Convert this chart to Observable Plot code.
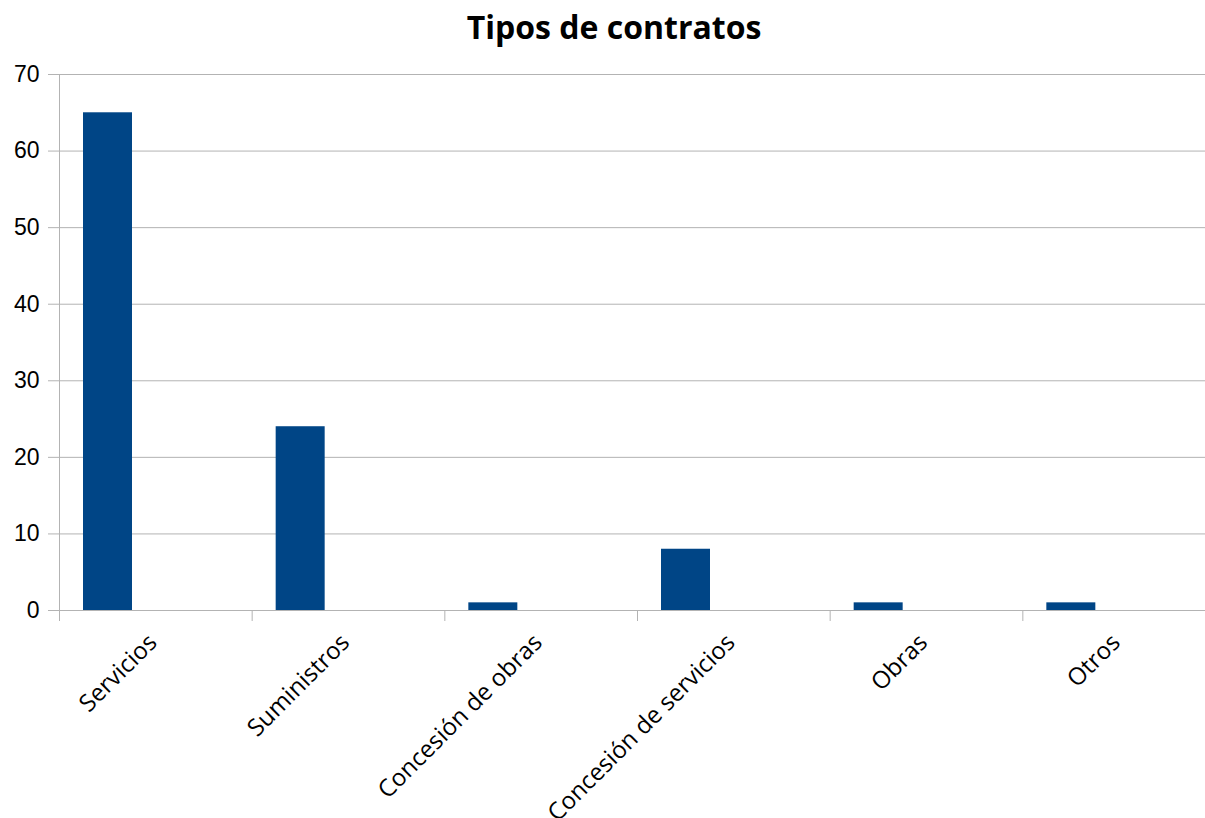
<!DOCTYPE html>
<html>
<head>
<meta charset="utf-8">
<script src="https://cdn.jsdelivr.net/npm/d3@7"></script>
<script src="https://cdn.jsdelivr.net/npm/@observablehq/plot@0.6"></script>
<style>
  html, body { margin: 0; padding: 0; background: #fff; overflow: hidden; }
  #wrap { position: relative; width: 1205px; height: 818px; }
  #title { position: absolute; top: 7px; left: 614px; transform: translateX(-50%);
    font-family: "Open Sans", sans-serif; font-weight: 700; font-size: 32px; color: #000; white-space: nowrap; line-height: 40px; }
  #chart { position: absolute; top: 56px; left: 0; }
</style>
</head>
<body>
<div id="wrap">
  <div id="title">Tipos de contratos</div>
  <div id="chart"></div>
</div>
<script>
const categories = ["Servicios", "Suministros", "Concesión de obras", "Concesión de servicios", "Obras", "Otros"];
const values = [65, 24, 1, 8, 1, 1];
const yTicks = [0, 10, 20, 30, 40, 50, 60, 70];

const data = categories.map((c, i) => ({category: c, value: values[i]}));

const left = 59, right = 1215;
const step = (right - left) / categories.length;

const chart = Plot.plot({
  width: 1205,
  height: 762,
  marginTop: 18,
  marginBottom: 208,
  marginLeft: left,
  marginRight: 0,
  x: {domain: categories, range: [left, right], padding: 0, round: false, label: null},
  y: {domain: [0, 70], ticks: yTicks, label: null},
  style: {background: "#fff"},
  marks: [
    Plot.gridY(yTicks, {stroke: "#b3b3b3", strokeOpacity: 1, strokeWidth: 1}),
    Plot.axisY({ticks: yTicks, tickSize: 11, tickPadding: 9, stroke: "#b3b3b3", fontSize: 23,
      fontFamily: "Liberation Sans, Arial, sans-serif", fill: "#000", label: null}),
    Plot.ruleX([0], {x: () => categories[0], dx: -step / 2, stroke: "#b3b3b3"}),
    Plot.barY(data, {x: "category", y: "value", fill: "#004586", insetLeft: 24, insetRight: step - 73}),
    Plot.ruleY([0], {stroke: "#b3b3b3"}),
    Plot.axisX({ticks: categories, tickSize: 11, text: null, dx: -step / 2, stroke: "#b3b3b3", label: null}),
    Plot.axisX({ticks: categories, tickSize: 0, tickPadding: 28, dx: -3, tickRotate: -45, fontSize: 24,
      fontFamily: "Open Sans, sans-serif", fill: "#000", label: null})
  ]
});
document.getElementById("chart").appendChild(chart);
</script>
</body>
</html>
